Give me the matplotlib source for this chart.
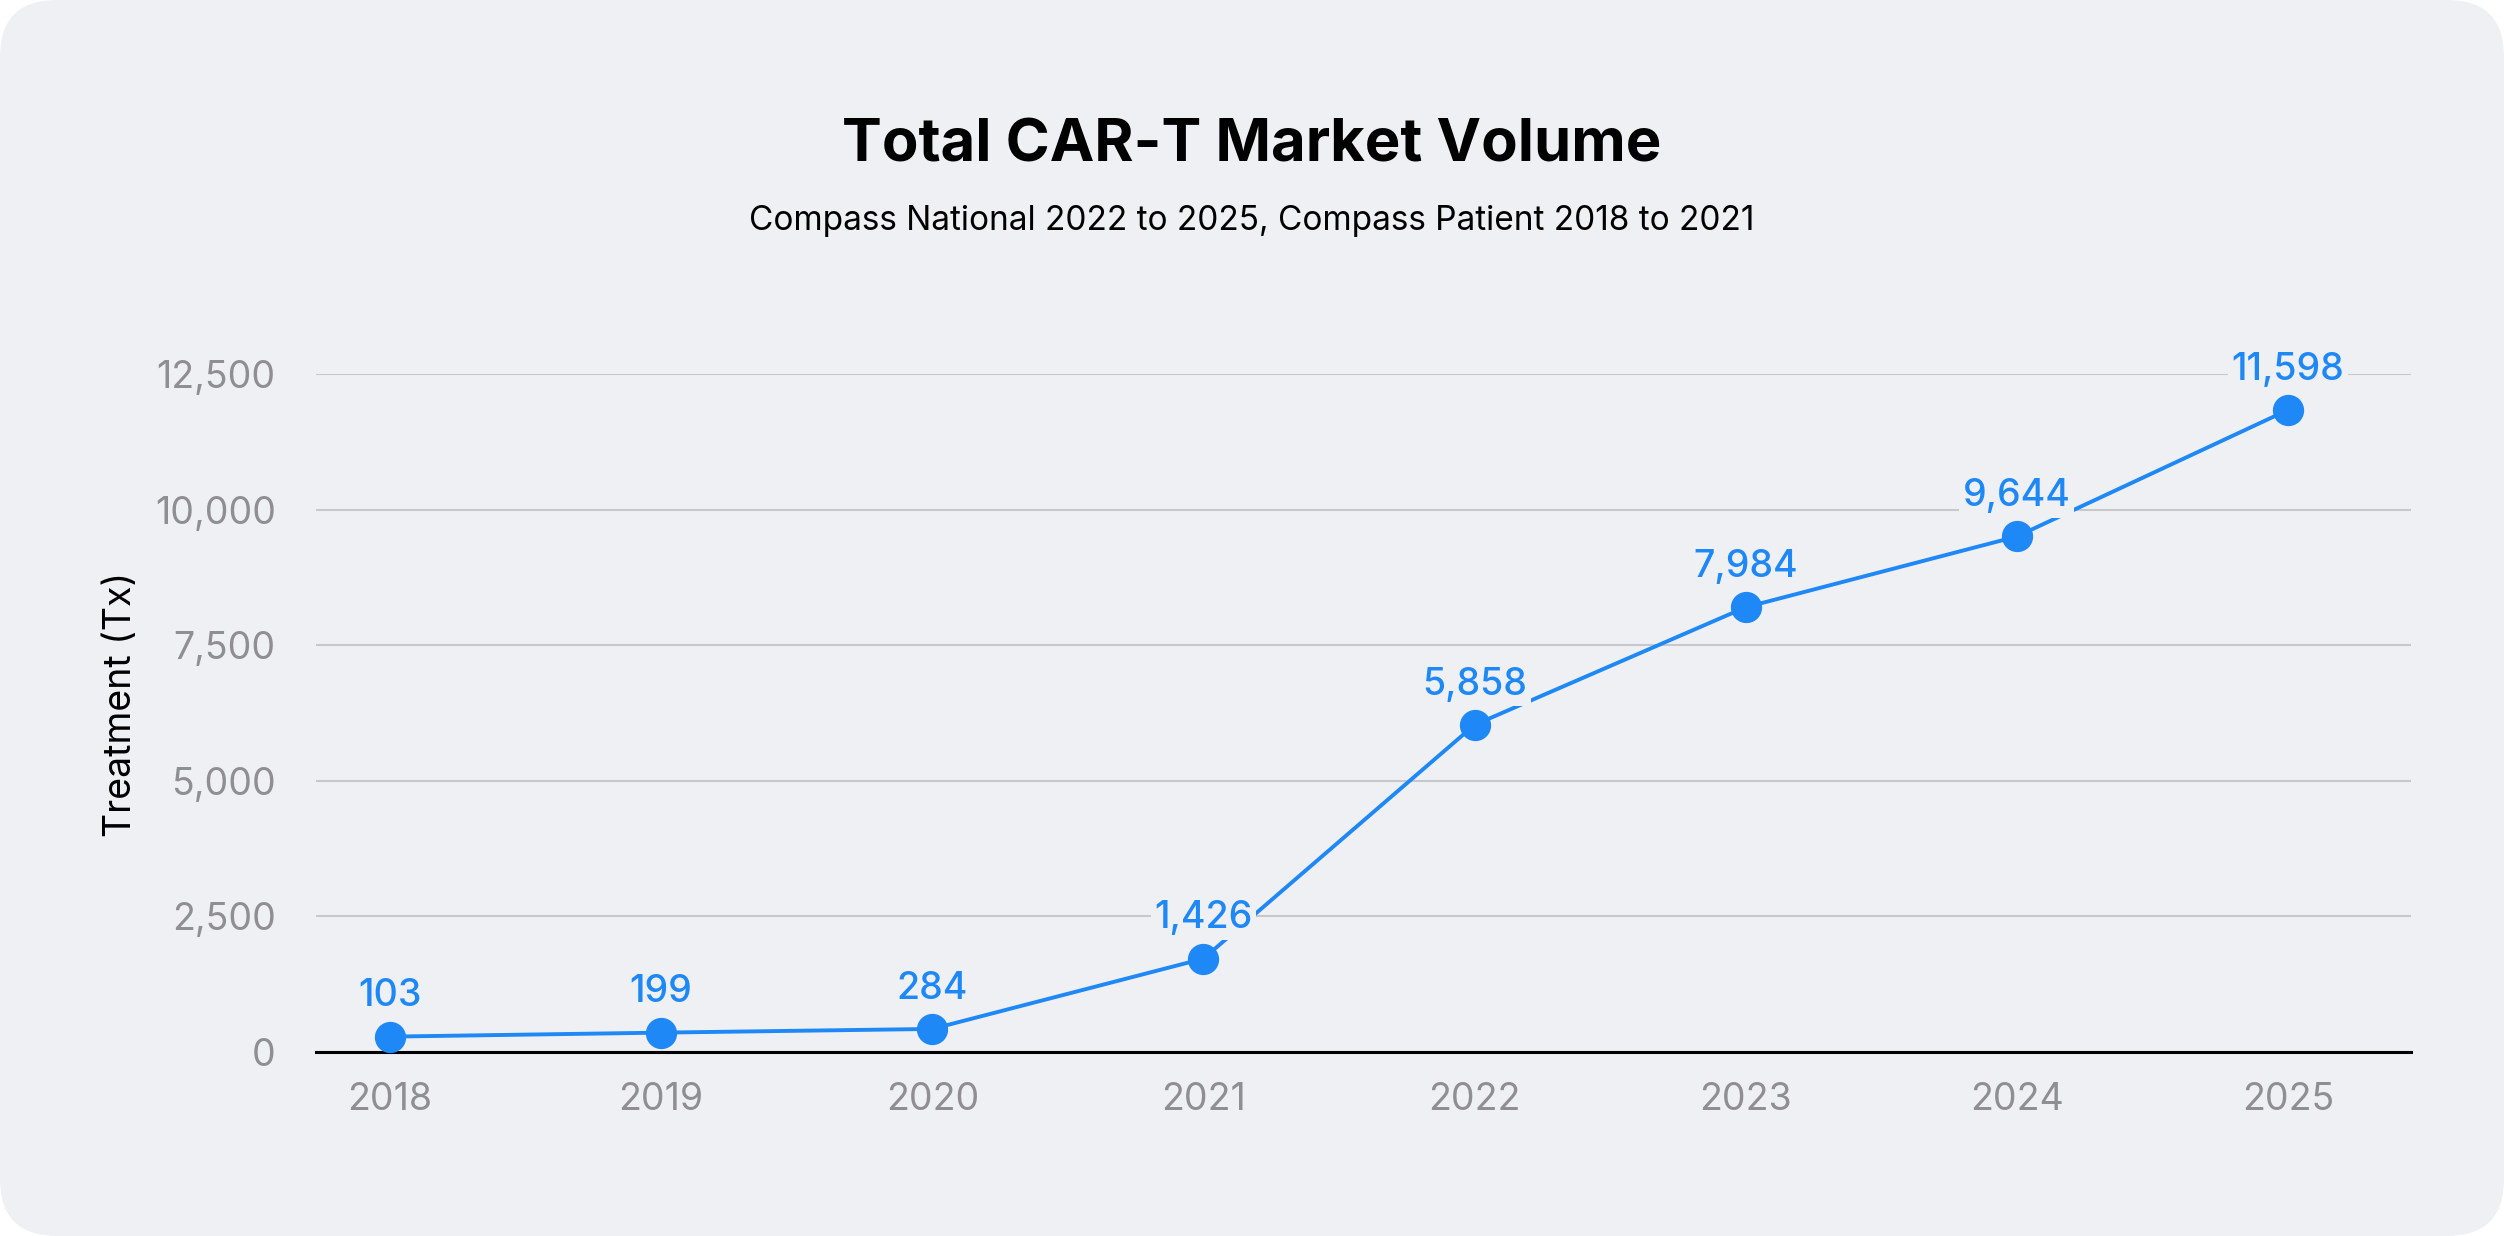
import matplotlib
matplotlib.use("Agg")
import matplotlib.pyplot as plt
from matplotlib.patches import FancyBboxPatch
from matplotlib.ticker import FuncFormatter

# ---- data ----
years = ["2018", "2019", "2020", "2021", "2022", "2023", "2024", "2025"]
plotted_values = [278, 352, 420, 1717, 6030, 8201, 9507, 11841]   # marker heights as drawn
label_values = [103, 199, 284, 1426, 5858, 7984, 9644, 11598]     # printed data labels
y_ticks = [0, 2500, 5000, 7500, 10000, 12500]

title = "Total CAR-T Market Volume"
subtitle = "Compass National 2022 to 2025, Compass Patient 2018 to 2021"
y_label = "Treatment (Tx)"

# ---- style ----
BG = "#eff0f4"
BLUE = "#1e88f7"
GRAY = "#8e8e93"
FONT = ["Inter", "DejaVu Sans"]
plt.rcParams["font.family"] = FONT

W, H = 2504, 1236
fig = plt.figure(figsize=(W / 100, H / 100), dpi=100)
fig.patch.set_facecolor("white")
panel = FancyBboxPatch((0, 0), W, H, boxstyle="round,pad=0,rounding_size=57",
                       transform=None, facecolor=BG, edgecolor="none", zorder=-10)
fig.patches.append(panel)

left, right = 316 / W, 2410.7 / W
bottom, top = 1 - 1051.7 / H, 1 - 374.3 / H
ax = fig.add_axes([left, bottom, right - left, top - bottom])
ax.set_facecolor("none")
ax.set_zorder(1)

x = list(range(len(years)))
ax.plot(x, plotted_values, color=BLUE, lw=2.8, marker="o", ms=21.5,
        mfc=BLUE, mec=BLUE, clip_on=False, zorder=3)

for xi, yv, lab in zip(x, plotted_values, label_values):
    ax.annotate(f"{lab:,}", (xi, yv), xytext=(0, 29), textcoords="offset points",
                ha="center", va="center", fontsize=27, fontweight="medium",
                color=BLUE, zorder=4,
                bbox=dict(boxstyle="square,pad=0.1", facecolor=BG, edgecolor="none"))

ax.set_xlim(-0.273, 7.453)
ax.set_ylim(0, 12500)
ax.set_xticks(x)
ax.set_xticklabels(years)
ax.set_yticks(y_ticks)
ax.yaxis.set_major_formatter(FuncFormatter(lambda v, p: f"{int(v):,}"))
ax.tick_params(axis="both", length=0, labelsize=27, labelcolor=GRAY)
ax.tick_params(axis="y", pad=29)
ax.tick_params(axis="x", pad=22)

ax.grid(axis="y", color="#c8c8cc", lw=1.5, zorder=0)
ax.set_axisbelow(True)
for s in ["top", "right", "left"]:
    ax.spines[s].set_visible(False)
ax.spines["bottom"].set_color("black")
ax.spines["bottom"].set_linewidth(2.2)
ax.spines["bottom"].set_zorder(2.5)

fig.text(121 / W, 1 - 704 / H, y_label, rotation=90, ha="center", va="center",
         fontsize=27, color="black")

fig.text(0.5, 1 - 161.7 / H, title, ha="center", va="baseline",
         fontsize=43, fontweight="bold", color="black")
fig.text(0.5, 1 - 230 / H, subtitle, ha="center", va="baseline",
         fontsize=24, color="black")

fig.savefig("out.png", dpi=100, facecolor=fig.get_facecolor())
